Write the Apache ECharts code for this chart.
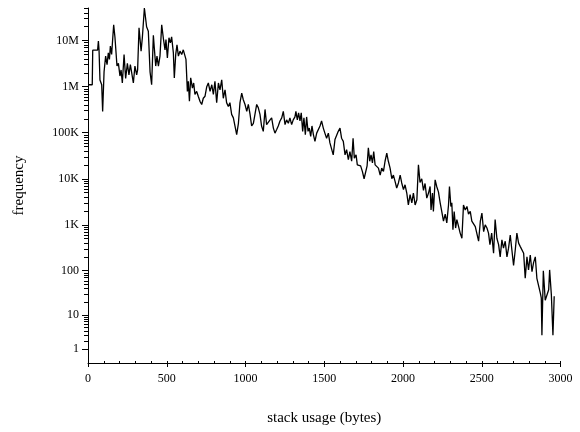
<!DOCTYPE html>
<html><head><meta charset="utf-8">
<script src="https://cdn.jsdelivr.net/npm/echarts@6/dist/echarts.min.js"></script>
<style>html,body{margin:0;padding:0;background:#fff}#c{width:580px;height:432px}</style>
</head><body><div id="c"></div>
<script>
// stack usage (bytes)
const stackBytes = [
0,27,30,61,66,70,76,87,93,102,112,121,129,136,142,150,163,171,184,193,203,210,218,229,239,250,260,269,277,288,298,309,315,324,337,345,358,
372,383,394,404,415,421,430,438,447,457,468,478,489,495,504,514,523,531,542,548,557,565,574,584,595,605,616,622,631,637,644,652,663,671,679,690,700,711,722,732,
743,754,764,775,786,796,806,817,828,838,849,859,870,880,891,901,912,923,933,944,955,965,976,986,997,1008,1018,1029,1039,1050,1060,1071,1081,1092,1102,1113,1124,1134,1145,
1156,1166,1177,1187,1198,1208,1219,1230,1240,1251,1261,1272,1282,1293,1303,1314,1320,1329,1337,1346,1354,1363,1371,1380,1388,1397,1405,1414,1422,1431,1441,1452,1462,1473,1483,1494,1504,1515,1526,1536,1547,1557,1568,1579,1589,1600,1610,1621,
1632,1642,1653,1663,1674,1683,1691,1702,1710,1721,1731,1742,1753,1763,1772,1780,1789,1797,1806,1814,1823,1833,1844,1855,1865,1876,1886,1897,1907,1918,1929,1939,1950,1960,1971,1982,1992,2003,2013,2024,2034,2045,2056,2066,2077,2088,2098,2108,2119,2130,2140,
2151,2162,2172,2178,2187,2193,2204,2214,2225,2236,2246,2257,2268,2278,2289,2295,2304,2310,2317,2325,2334,2342,2353,2363,2374,2384,2395,2406,2416,2427,2437,2448,2459,2469,2480,2491,2501,2512,2522,2533,2543,
2552,2563,2575,2585,2596,2607,2617,2628,2638,2649,2660,2670,2681,2691,2702,2713,2723,2734,2744,2755,2766,2776,2787,2797,2808,2819,2829,2840,2850,2861,2872,2878,2882,2891,2903,2914,2925,2931,2942,2952,2960
];
// frequency
const frequency = [
1.1e6,1.1e6,6.2e6,6.2e6,9.8e6,6.3e6,1.4e6,1.1e6,2.9e5,2.1e6,4.6e6,3.0e6,5.4e6,3.9e6,7.6e6,5.0e6,2.2e7,1.2e7,2.8e6,3.2e6,1.7e6,2.3e6,1.2e6,5.0e6,1.5e6,3.2e6,1.8e6,3.0e6,2.8e6,1.2e6,2.8e6,1.8e6,2.3e6,1.9e7,5.9e6,1.15e7,5.1e7,
2.0e7,1.6e7,2.1e6,1.1e6,1.3e7,6.9e6,2.8e6,4.6e6,2.8e6,4.6e6,2.2e7,1.15e7,6.3e6,1.05e7,4.2e6,1.15e7,8.9e6,1.2e7,5.4e6,1.55e6,5.0e6,8.1e6,4.6e6,5.9e6,5.0e6,6.3e6,5.9e6,3.9e6,7.9e5,1.3e6,4.8e5,1.55e6,9.3e5,1.2e6,6.8e5,7.9e5,6.2e5,4.8e5,4.1e5,5.6e5,
6.2e5,1.0e6,1.2e6,7.9e5,1.1e6,6.8e5,1.3e6,4.5e5,1.2e6,8.5e5,1.4e6,5.6e5,8.5e5,4.5e5,3.7e5,4.5e5,2.5e5,2.1e5,1.4e5,9.1e4,1.6e5,4.5e5,7.2e5,5.2e5,4.1e5,2.9e5,4.1e5,2.5e5,1.4e5,1.6e5,2.5e5,4.1e5,3.5e5,2.5e5,1.4e5,1.07e5,3.2e5,1.5e5,1.4e5,
1.9e5,2.1e5,1.26e5,9.8e4,1.17e5,1.4e5,1.8e5,2.1e5,2.9e5,1.5e5,1.9e5,1.6e5,2.1e5,1.5e5,1.9e5,2.2e5,2.9e5,1.9e5,2.7e5,1.8e5,2.7e5,1.07e5,2.1e5,9.1e4,2.2e5,1.07e5,1.26e5,8.3e4,1.4e5,9.1e4,6.5e4,9.8e4,9.1e4,1.4e5,1.8e5,1.26e5,9.8e4,7.6e4,9.8e4,6.0e4,6.5e4,3.3e4,7.1e4,6.5e4,1.07e5,1.26e5,7.6e4,6.5e4,
3.3e4,4.3e4,2.6e4,3.9e4,2.4e4,7.6e4,2.8e4,3.3e4,2.0e4,2.2e4,1.9e4,1.45e4,1.0e4,9.5e3,1.9e4,4.7e4,2.4e4,3.3e4,2.2e4,3.9e4,2.0e4,1.9e4,1.7e4,1.2e4,1.7e4,1.45e4,2.4e4,3.6e4,2.4e4,1.7e4,1.0e4,1.2e4,8.7e3,6.3e3,8.1e3,1.2e4,8.1e3,5.8e3,7.4e3,4.9e3,2.7e3,4.5e3,3.0e3,4.9e3,2.7e3,3.5e3,2.0e4,8.3e3,1.0e4,5.6e3,7.9e3,
3.8e3,4.9e3,6.8e3,2.1e3,4.9e3,1950,9.5e3,6.8e3,5.2e3,3.0e3,1950,1200,1700,1100,2700,6800,2500,3000,780,1950,850,1300,910,660,510,2700,2100,2500,1700,1950,1200,1100,910,1000,440,1200,1800,710,1000,850,660,
370,660,240,1300,510,370,200,470,310,440,200,310,600,290,130,290,660,400,340,310,240,68,200,104,220,95,150,200,68,75,32,25,3,100,22,29,38,104,29,3,27
];
const yTickValues = [1,10,100,1000,10000,100000,1000000,10000000];
const yTickLabels = ['1','10','100','1K','10K','100K','1M','10M'];
const xMin = 0, xMax = 3000, xMajor = 500, xMinor = 100;

function toAxis(v){ return Math.log10(1 + v); }
const yMax = toAxis(Math.max.apply(null, frequency));
const majorPos = yTickValues.map(toAxis);
const minorPos = [];
for (let k = 0; k < 8; k++) {
  for (let m = 2; m <= 9; m++) {
    const p = toAxis(m * Math.pow(10, k));
    if (p <= yMax) minorPos.push(p);
  }
}
const seriesData = stackBytes.map((b, i) => [b, toAxis(frequency[i])]);
const font = 'Liberation Serif';
const chart = echarts.init(document.getElementById('c'), null, {renderer: 'canvas'});
chart.setOption({
  animation: false,
  backgroundColor: '#fff',
  grid: {left: 88, right: 19.5, top: 8, bottom: 69, containLabel: false},
  xAxis: [{
    type: 'value', min: xMin, max: xMax, interval: xMajor, position: 'bottom',
    name: 'stack usage (bytes)', nameLocation: 'middle', nameGap: 48,
    nameTextStyle: {fontFamily: font, fontSize: 15, color: '#000'},
    axisLine: {show: true, lineStyle: {color: '#000', width: 1}},
    axisTick: {show: true, length: 4, lineStyle: {color: '#000'}},
    axisLabel: {fontFamily: font, fontSize: 12, color: '#000', margin: 10,
      formatter: function (v) { return String(v); }},
    splitLine: {show: false}
  }, {
    type: 'value', min: xMin, max: xMax, interval: xMinor, position: 'bottom',
    axisLine: {show: false},
    axisTick: {show: true, inside: true, length: 2, lineStyle: {color: '#000'}},
    axisLabel: {show: false},
    splitLine: {show: false}
  }],
  yAxis: [{
    type: 'value', min: 0, max: yMax, position: 'left',
    name: 'frequency', nameLocation: 'middle', nameGap: 61,
    nameTextStyle: {fontFamily: font, fontSize: 15, color: '#000'},
    axisLine: {show: true, lineStyle: {color: '#000', width: 1}},
    axisTick: {show: true, length: 6, customValues: majorPos, lineStyle: {color: '#000'}},
    axisLabel: {
      fontFamily: font, fontSize: 12, color: '#000', margin: 9,
      customValues: majorPos,
      formatter: function (val) {
        for (let i = 0; i < majorPos.length; i++) {
          if (Math.abs(majorPos[i] - val) < 1e-6) return yTickLabels[i];
        }
        return '';
      }
    },
    splitLine: {show: false}
  }, {
    type: 'value', min: 0, max: yMax, position: 'left',
    axisLine: {show: false},
    axisTick: {show: true, length: 4, customValues: minorPos, lineStyle: {color: '#000'}},
    axisLabel: {show: false},
    splitLine: {show: false}
  }],
  series: [{
    type: 'line', xAxisIndex: 0, yAxisIndex: 0,
    data: seriesData, showSymbol: false, symbol: 'none',
    lineStyle: {color: '#000', width: 1.3}
  }]
});
</script></body></html>
